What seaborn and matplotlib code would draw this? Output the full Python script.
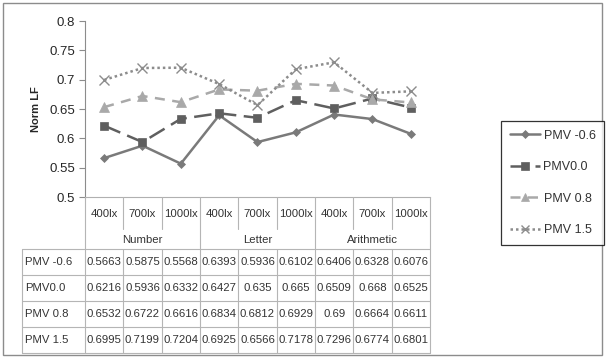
import matplotlib
matplotlib.use("Agg")
import matplotlib.pyplot as plt
import matplotlib.transforms as mtransforms
from matplotlib.lines import Line2D
from matplotlib.patches import Rectangle
import seaborn as sns
import pandas as pd

lux = ["400lx", "700lx", "1000lx"] * 3
tasks = ["Number", "Letter", "Arithmetic"]
series = ["PMV -0.6", "PMV0.0", "PMV 0.8", "PMV 1.5"]
pmv_m06 = [0.5663, 0.5875, 0.5568, 0.6393, 0.5936, 0.6102, 0.6406, 0.6328, 0.6076]
pmv_00 = [0.6216, 0.5936, 0.6332, 0.6427, 0.635, 0.665, 0.6509, 0.668, 0.6525]
pmv_08 = [0.6532, 0.6722, 0.6616, 0.6834, 0.6812, 0.6929, 0.69, 0.6664, 0.6611]
pmv_15 = [0.6995, 0.7199, 0.7204, 0.6925, 0.6566, 0.7178, 0.7296, 0.6774, 0.6801]
table_text = [["0.5663", "0.5875", "0.5568", "0.6393", "0.5936", "0.6102", "0.6406", "0.6328", "0.6076"],
              ["0.6216", "0.5936", "0.6332", "0.6427", "0.635", "0.665", "0.6509", "0.668", "0.6525"],
              ["0.6532", "0.6722", "0.6616", "0.6834", "0.6812", "0.6929", "0.69", "0.6664", "0.6611"],
              ["0.6995", "0.7199", "0.7204", "0.6925", "0.6566", "0.7178", "0.7296", "0.6774", "0.6801"]]

values = [pmv_m06, pmv_00, pmv_08, pmv_15]
rows = []
for name, vals in zip(series, values):
    for i, v in enumerate(vals):
        rows.append({"pos": i, "series": name, "LF": v})
df = pd.DataFrame(rows)

sns.set_style("white")
plt.rcParams["font.family"] = ["Liberation Sans", "DejaVu Sans"]

W, H = 606, 358
fig = plt.figure(figsize=(W / 100, H / 100), dpi=100)
fig.patch.set_facecolor("white")
# outer chart border
fig.add_artist(Rectangle((3 / W, 3 / H), 599 / W, 352 / H, transform=fig.transFigure,
                         fill=False, edgecolor="#8c8c8c", lw=1))

x0, x1, ytop, ybot = 85, 430, 21, 197
ax = fig.add_axes([x0 / W, 1 - ybot / H, (x1 - x0) / W, (ybot - ytop) / H])

palette = {"PMV -0.6": "#7a7a7a", "PMV0.0": "#5f5f5f", "PMV 0.8": "#a9a9a9", "PMV 1.5": "#8c8c8c"}
markers = {"PMV -0.6": "D", "PMV0.0": "s", "PMV 0.8": "^", "PMV 1.5": "x"}
dashes = {"PMV -0.6": None, "PMV0.0": (7, 3), "PMV 0.8": (4, 3), "PMV 1.5": (1, 1.2)}
sizes = {"PMV -0.6": 4.5, "PMV0.0": 6, "PMV 0.8": 6.5, "PMV 1.5": 7}
mew = {"PMV -0.6": 0.5, "PMV0.0": 0.5, "PMV 0.8": 0.5, "PMV 1.5": 1.0}

for name in series:
    sub = df[df["series"] == name]
    kw = {} if dashes[name] is None else {"dashes": dashes[name]}
    sns.lineplot(data=sub, x="pos", y="LF", color=palette[name], marker=markers[name],
                 markersize=sizes[name], markeredgecolor=palette[name], markeredgewidth=mew[name],
                 lw=1.8, ax=ax, **kw)

ax.set_xlim(-0.5, 8.5)
ax.set_ylim(0.5, 0.8)
ax.set_yticks([0.5, 0.55, 0.6, 0.65, 0.7, 0.75, 0.8])
ax.set_yticklabels(["0.5", "0.55", "0.6", "0.65", "0.7", "0.75", "0.8"])
ax.set_xticks([])
ax.set_xlabel("")
ax.set_ylabel("Norm LF", fontsize=8, fontweight="bold", labelpad=6)
for s in ["top", "right"]:
    ax.spines[s].set_visible(False)
ax.spines["left"].set_color("#8c8c8c")
ax.spines["bottom"].set_color("#b0b0b0")
ax.tick_params(axis="y", direction="out", length=4, width=0.8, color="#8c8c8c",
               labelsize=9.5, pad=3, left=True)

# data table below the axis
tr = mtransforms.blended_transform_factory(ax.transData, fig.transFigure)
grid = "#b5b5b5"


def fy(py):
    return 1 - py / H


def hline(xa, xb, py, transform):
    fig.add_artist(Line2D([xa, xb], [fy(py), fy(py)], transform=transform, color=grid, lw=0.8))


def vline(x, pa, pb, transform):
    fig.add_artist(Line2D([x, x], [fy(pa), fy(pb)], transform=transform, color=grid, lw=0.8))


lx_bottom = 229
grp_bottom = 249
row_h = 26
tab_left = 22
row_edges = [grp_bottom + row_h * k for k in range(5)]

for i in range(1, 9):
    if i % 3:
        vline(i - 0.5, ybot, lx_bottom, tr)
for i in range(0, 10, 3):
    vline(i - 0.5, ybot, grp_bottom, tr)
for i in range(10):
    vline(i - 0.5, grp_bottom, row_edges[-1], tr)
vline(tab_left / W, grp_bottom, row_edges[-1], fig.transFigure)
for py in row_edges:
    hline(tab_left / W, x0 / W, py, fig.transFigure)
    hline(-0.5, 8.5, py, tr)

fs = 8.2
for i, lab in enumerate(lux):
    fig.text(i, fy((ybot + lx_bottom) / 2 + 1), lab, transform=tr, ha="center", va="center",
             fontsize=fs, color="#333333")
for g, lab in enumerate(tasks):
    fig.text(3 * g + 1, fy((lx_bottom + grp_bottom) / 2 + 1), lab, transform=tr, ha="center",
             va="center", fontsize=fs, color="#333333")
for r, name in enumerate(series):
    yc = fy((row_edges[r] + row_edges[r + 1]) / 2)
    fig.text((tab_left + 3) / W, yc, name, ha="left", va="center", fontsize=fs, color="#333333")
    for i, txt in enumerate(table_text[r]):
        fig.text(i, yc, txt, transform=tr, ha="center", va="center", fontsize=fs, color="#333333")

# legend
handles = []
for n in series:
    h = Line2D([], [], color=palette[n], marker=markers[n], markersize=sizes[n] * 0.85,
               markeredgecolor=palette[n], markeredgewidth=mew[n], lw=1.8)
    if dashes[n] is not None:
        h.set_dashes(dashes[n])
    handles.append(h)
leg = fig.legend(handles, series, loc="upper left", bbox_to_anchor=(501 / W, fy(121)),
                 bbox_transform=fig.transFigure, frameon=True, fancybox=False,
                 edgecolor="black", fontsize=9, handlelength=2.4, labelspacing=1.55,
                 borderpad=0.7, handletextpad=0.3, borderaxespad=0)
leg.get_frame().set_linewidth(0.9)
for t in leg.get_texts():
    t.set_color("#333333")

fig.savefig("out.png", dpi=100, facecolor="white")
